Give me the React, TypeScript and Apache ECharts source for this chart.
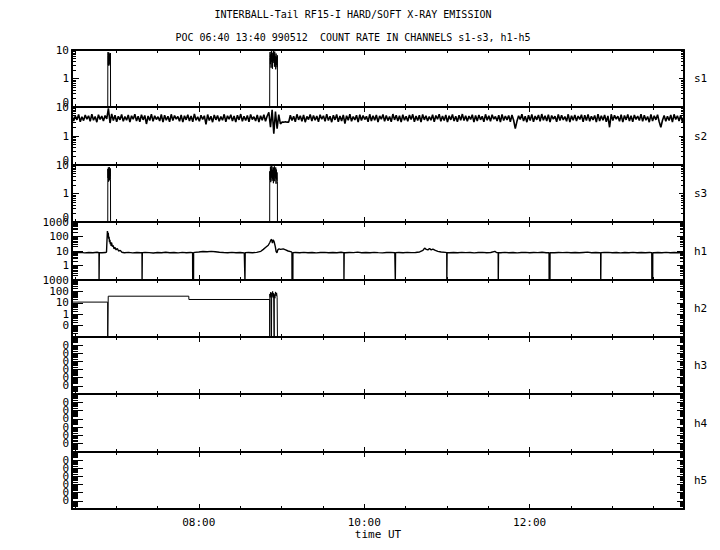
import React, { useEffect, useRef } from 'react';
import * as echarts from 'echarts';

// ---- time range (hours UT) ----
const T_MIN = 6.4667; // 06:28
const T_MAX = 13.8667; // 13:52

// ---- panels ----
const panelNames = ['s1', 's2', 's3', 'h1', 'h2', 'h3', 'h4', 'h5'];
const panelMin = [0.1, 0.1, 0.1, 0.1, 0.01, 1e-8, 1e-8, 1e-8];
const panelMax = [10, 10, 10, 1000, 1000, 0.1, 0.1, 0.1];
const panelLineWidth = [1, 1.6, 1, 1.4, 1, 1, 1, 1];

// ---- x ticks ----
const xMajorTicks = [8, 10, 12];
const xMinorTicks = [6.5, 7, 7.5, 8.5, 9, 9.5, 10.5, 11, 11.5, 12.5, 13, 13.5];
const xMajorLabels = ['08:00', '10:00', '12:00'];

// ---- data ----
const s1Points = [
  [6.4667, 0], [6.899, 0], [6.9, 6.5], [6.903, 8.5], [6.906, 3], [6.909, 7.5], [6.912, 2.8], [6.915, 8],
  [6.918, 4.2], [6.921, 7], [6.924, 3.1], [6.927, 6.8], [6.93, 5], [6.932, 7.8], [6.933, 0],
  [8.857, 0], [8.858, 5.5], [8.862, 8.5], [8.866, 3.2], [8.87, 7], [8.874, 2.4], [8.878, 9.5], [8.882, 3.8],
  [8.886, 6.5], [8.89, 2.2], [8.894, 8], [8.898, 3.5], [8.902, 10], [8.906, 4], [8.91, 7.2], [8.914, 2.6],
  [8.918, 8.8], [8.922, 3.3], [8.926, 6], [8.93, 2.1], [8.934, 7.5], [8.938, 3], [8.942, 5.8], [8.946, 2.5],
  [8.95, 6.5], [8.951, 0], [13.8667, 0],
];

const s2Start = 6.4667;
const s2Step = 0.02;
const s2Values = [
  5.2, 3.3, 4.9, 3.6, 5.5, 3.1, 4.6, 3.4, 5.3, 3.8,
  5.0, 3.2, 5.6, 3.5, 4.7, 3.0, 5.4, 3.7, 4.9, 3.3,
  5.1, 3.9, 9.0, 2.8, 5.8, 3.4, 5.2, 3.1, 4.8, 3.6,
  5.5, 3.2, 4.7, 3.5, 5.3, 3.0, 5.0, 3.8, 5.6, 3.3,
  4.8, 3.1, 5.4, 3.6, 5.1, 2.6, 4.9, 3.4, 5.7, 3.2,
  5.0, 3.7, 4.6, 3.3, 5.5, 3.0, 5.2, 3.5, 4.8, 3.1,
  5.6, 3.4, 5.1, 3.8, 4.7, 3.2, 5.3, 3.0, 5.0, 3.6,
  5.4, 3.3, 4.9, 3.1, 5.8, 3.5, 4.6, 3.2, 5.2, 3.7,
  5.0, 2.5, 5.5, 3.4, 4.8, 3.0, 5.3, 3.6, 5.1, 3.2,
  4.7, 3.5, 5.6, 3.1, 5.0, 3.8, 5.4, 3.3, 4.9, 3.0,
  5.2, 3.6, 5.7, 3.2, 4.8, 3.4, 5.1, 3.1, 5.5, 3.7,
  4.6, 3.3, 5.3, 3.0, 5.0, 3.5, 5.4, 3.2, 4.9, 6.5,
  2.0, 8.0, 1.2, 7.0, 1.8, 5.5, 2.6, 3.0, 3.0, 3.1,
  3.0, 3.0, 5.2, 3.4, 4.8, 3.1, 5.6, 3.6, 5.0, 3.2,
  5.3, 3.0, 4.7, 3.7, 5.5, 3.3, 5.1, 3.5, 4.9, 3.1,
  5.4, 3.8, 5.0, 3.2, 5.7, 3.4, 4.8, 3.0, 5.2, 3.6,
  5.5, 3.1, 4.9, 3.3, 5.3, 2.7, 5.0, 3.5, 5.6, 3.2,
  4.7, 3.6, 5.2, 3.0, 5.4, 3.4, 5.1, 3.7, 4.8, 3.1,
  5.6, 3.3, 5.0, 3.5, 5.3, 3.0, 4.9, 3.8, 5.5, 3.2,
  5.1, 3.4, 4.7, 3.1, 5.7, 3.6, 5.2, 3.3, 5.0, 3.0,
  5.4, 3.5, 4.8, 3.2, 5.3, 3.7, 5.6, 3.1, 4.9, 3.4,
  5.2, 3.0, 5.5, 3.6, 5.0, 3.3, 4.7, 3.5, 5.4, 3.1,
  5.1, 3.8, 5.6, 3.2, 4.9, 3.4, 5.3, 3.0, 5.0, 3.6,
  5.5, 3.3, 4.8, 3.1, 5.2, 3.5, 5.7, 3.4, 5.0, 3.2,
  4.9, 3.7, 5.4, 3.0, 5.1, 3.3, 5.3, 3.6, 4.8, 3.1,
  5.6, 3.5, 5.0, 3.2, 5.4, 3.8, 4.7, 3.3, 5.2, 3.0,
  5.5, 3.4, 4.9, 3.6, 5.1, 3.1, 5.3, 3.5, 1.8, 3.2,
  5.0, 3.7, 5.6, 3.3, 4.8, 3.0, 5.2, 3.4, 5.5, 3.1,
  4.9, 3.6, 5.3, 3.2, 5.7, 3.5, 5.0, 3.3, 5.4, 3.0,
  5.1, 3.8, 4.8, 3.1, 5.5, 3.4, 5.2, 3.6, 4.7, 3.2,
  5.6, 3.0, 5.0, 3.5, 5.3, 3.3, 4.9, 3.7, 5.4, 3.1,
  5.2, 3.4, 5.5, 3.2, 4.8, 3.6, 5.1, 3.0, 5.7, 3.3,
  5.0, 3.5, 5.3, 3.1, 4.9, 2.0, 5.6, 3.4, 5.2, 3.8,
  4.8, 3.2, 5.4, 3.0, 5.1, 3.6, 5.5, 3.3, 5.0, 3.1,
  5.3, 3.7, 4.9, 3.4, 5.6, 3.2, 5.2, 3.5, 4.7, 3.0,
  5.5, 3.3, 5.0, 3.6, 5.4, 3.1, 2.0, 3.5, 5.1, 3.2,
  4.8, 3.4, 5.3, 3.0, 5.6, 3.7, 5.0, 3.3, 5.2, 3.1,
  4.9,
];

const s3Points = [
  [6.4667, 0], [6.899, 0], [6.9, 7.2], [6.903, 3.5], [6.906, 8.2], [6.909, 2.6], [6.912, 7], [6.915, 3.8],
  [6.918, 8.5], [6.921, 2.9], [6.924, 6.5], [6.927, 4], [6.93, 7.6], [6.932, 3], [6.933, 0],
  [8.857, 0], [8.858, 6], [8.862, 3], [8.866, 8.8], [8.87, 2.5], [8.874, 7.4], [8.878, 3.6], [8.882, 9.6],
  [8.886, 2.8], [8.89, 6.8], [8.894, 3.2], [8.898, 8.4], [8.902, 2.3], [8.906, 7.8], [8.91, 3.9], [8.914, 9],
  [8.918, 2.7], [8.922, 6.3], [8.926, 3.4], [8.93, 8.2], [8.934, 2.2], [8.938, 6.9], [8.942, 3.1], [8.946, 5.5],
  [8.95, 2.6], [8.951, 0], [13.8667, 0],
];

const h1Points = [
  [6.4667, 7.8], [6.52, 7.5], [6.57, 8.1], [6.62, 7.4], [6.67, 7.9], [6.72, 7.6], [6.77, 8.2], [6.83, 7.5],
  [6.87, 7.8], [6.884, 8.5], [6.89, 60], [6.895, 239], [6.9, 120], [6.905, 180], [6.91, 70], [6.915, 95],
  [6.92, 40], [6.925, 60], [6.93, 30], [6.935, 42], [6.94, 22], [6.945, 37], [6.955, 20], [6.965, 24],
  [6.975, 14], [6.985, 18], [7.0, 12], [7.015, 15], [7.03, 10], [7.05, 11], [7.07, 8.2], [7.1, 7.6],
  [7.15, 8.0], [7.2, 7.4], [7.25, 7.9], [7.3, 7.5], [7.35, 8.1], [7.4, 7.7], [7.45, 7.3], [7.5, 7.9],
  [7.55, 7.6], [7.6, 8.2], [7.65, 7.5], [7.7, 7.8], [7.75, 7.4], [7.8, 8.0], [7.85, 7.6], [7.9, 7.9],
  [7.95, 8.1], [8.0, 8.6], [8.05, 9.2], [8.1, 8.9], [8.15, 9.4], [8.2, 8.8], [8.25, 8.2], [8.3, 7.8],
  [8.35, 7.5], [8.4, 8.0], [8.45, 7.6], [8.5, 7.9], [8.55, 7.4], [8.6, 7.8], [8.65, 7.5], [8.7, 8.1],
  [8.75, 9.5], [8.78, 13], [8.81, 18], [8.84, 25], [8.86, 40], [8.87, 55], [8.88, 64], [8.89, 35],
  [8.9, 58], [8.91, 45], [8.925, 20], [8.935, 9], [8.945, 7.6], [8.955, 12], [8.97, 14], [8.99, 13],
  [9.02, 14], [9.05, 12], [9.08, 10], [9.12, 8.6], [9.17, 7.8], [9.22, 7.5], [9.27, 8.0], [9.32, 7.6],
  [9.37, 7.9], [9.42, 7.4], [9.47, 7.8], [9.52, 8.1], [9.57, 7.5], [9.62, 7.8], [9.67, 7.6], [9.72, 8.2],
  [9.77, 7.5], [9.82, 7.9], [9.87, 7.7], [9.92, 8.3], [9.97, 7.6], [10.02, 7.9], [10.07, 7.5], [10.12, 8.1],
  [10.17, 7.7], [10.22, 7.4], [10.27, 7.8], [10.32, 8.0], [10.37, 7.6], [10.42, 7.9], [10.47, 7.5], [10.52, 8.0],
  [10.57, 7.7], [10.62, 7.9], [10.67, 8.6], [10.71, 11], [10.73, 16], [10.75, 13], [10.77, 12], [10.79, 15],
  [10.81, 12], [10.83, 13.5], [10.86, 11], [10.89, 9.5], [10.93, 8.5], [10.98, 8.0], [11.03, 7.6], [11.08, 7.9],
  [11.13, 7.5], [11.18, 8.1], [11.23, 7.7], [11.28, 7.9], [11.33, 7.4], [11.38, 7.8], [11.43, 8.0], [11.48, 7.6],
  [11.53, 7.9], [11.58, 9.5], [11.6, 7.8], [11.65, 7.5], [11.7, 8.0], [11.75, 7.6], [11.8, 7.9], [11.85, 7.4],
  [11.9, 7.8], [11.95, 8.1], [12.0, 7.5], [12.05, 7.9], [12.1, 7.7], [12.15, 8.2], [12.2, 7.6], [12.25, 7.8],
  [12.3, 7.5], [12.35, 7.9], [12.4, 7.7], [12.45, 8.0], [12.5, 7.6], [12.55, 7.8], [12.6, 7.5], [12.65, 7.9],
  [12.7, 8.3], [12.75, 7.6], [12.8, 7.8], [12.85, 7.5], [12.9, 7.9], [12.95, 8.1], [13.0, 7.6], [13.05, 7.8],
  [13.1, 7.4], [13.15, 7.9], [13.2, 7.6], [13.25, 8.0], [13.3, 7.5], [13.35, 7.8], [13.4, 7.6], [13.45, 7.9],
  [13.5, 7.5], [13.55, 7.8], [13.6, 7.6], [13.65, 8.0], [13.7, 7.5], [13.75, 7.8], [13.8, 7.6], [13.8667, 7.8],
];
// dropouts of h1 to zero (time, half width in hours)
const h1DropTimes = [6.795, 7.315, 7.931, 8.559, 9.132, 9.756, 10.377, 11.0, 11.622, 12.241, 12.861, 13.483];
const h1DropHalfWidth = [0.001, 0.001, 0.005, 0.001, 0.005, 0.001, 0.001, 0.001, 0.001, 0.005, 0.001, 0.005];
const h1DropLevel = 7.7;

const h2Points = [
  [6.4667, 11.5], [6.898, 11.5], [6.899, 0], [6.904, 0], [6.905, 38], [7.879, 38], [7.88, 19.5],
  [8.857, 19.5], [8.858, 0], [8.859, 60], [8.864, 30], [8.869, 85], [8.874, 40], [8.879, 0], [8.881, 75],
  [8.887, 35], [8.893, 100], [8.899, 28], [8.905, 70], [8.911, 0], [8.913, 55], [8.92, 25], [8.927, 90],
  [8.934, 40], [8.941, 75], [8.947, 30], [8.951, 0], [13.8667, 0],
];
const h3Points = [[6.4667, 0], [13.8667, 0]];
const h4Points = [[6.4667, 0], [13.8667, 0]];
const h5Points = [[6.4667, 0], [13.8667, 0]];

// ---- layout/styles ----
const FONT = 'DejaVu Sans Mono';
const PLOT_TOP = 50;
const PLOT_BOTTOM = 509;
const PLOT_LEFT = 72;
const PLOT_RIGHT = 36;

function buildSeriesData(): number[][][] {
  const s2 = s2Values.map((v, i) => [s2Start + i * s2Step, v]);
  const h1: number[][] = h1Points.map((p) => [p[0], p[1]]);
  h1DropTimes.forEach((t, k) => {
    const w = h1DropHalfWidth[k];
    h1.push([t - w - 0.0008, h1DropLevel], [t - w, 0], [t + w, 0], [t + w + 0.0008, h1DropLevel]);
  });
  h1.sort((a, b) => a[0] - b[0]);
  return [s1Points, s2, s3Points, h1, h2Points, h3Points, h4Points, h5Points] as number[][][];
}

// decade tick values of a log axis (raw values and their exponents)
function decades(min: number, max: number) {
  const lo = Math.round(Math.log10(min));
  const hi = Math.round(Math.log10(max));
  const majors: number[] = [];
  const all: number[] = [];
  const majorExp: number[] = [];
  const allExp: number[] = [];
  for (let e = lo; e <= hi; e++) {
    const p = Number(Math.pow(10, e).toPrecision(12));
    majors.push(p);
    all.push(p);
    majorExp.push(e);
    allExp.push(e);
    if (e < hi) {
      for (let k = 2; k <= 9; k++) {
        all.push(Number((k * Math.pow(10, e)).toPrecision(12)));
        allExp.push(e + Math.log10(k));
      }
    }
  }
  return { lo, hi, majors, all, majorExp, allExp };
}

export default function App() {
  const ref = useRef<HTMLDivElement>(null);
  useEffect(() => {
    if (!ref.current) return;
    const chart = echarts.init(ref.current, undefined, { renderer: 'svg' });
    const data = buildSeriesData();
    const n = panelNames.length;
    const tops = Array.from({ length: n + 1 }, (_, i) => Math.round(PLOT_TOP + (i * (PLOT_BOTTOM - PLOT_TOP)) / n));
    const grids: any[] = [];
    const xAxes: any[] = [];
    const yAxes: any[] = [];
    const series: any[] = [];
    const black = '#000';
    const xAll = [...xMajorTicks, ...xMinorTicks].sort((a, b) => a - b);
    const tickLine = { color: black, width: 1 };
    const lineOn = { show: true, onZero: false, lineStyle: { color: black, width: 2 } };
    const lineOff = { show: false, onZero: false };
    for (let i = 0; i < n; i++) {
      grids.push({ left: PLOT_LEFT, right: PLOT_RIGHT, top: tops[i], height: tops[i + 1] - tops[i] });
      const isLast = i === n - 1;
      const isS = i < 3;
      const xCommon = { type: 'value', gridIndex: i, min: T_MIN, max: T_MAX, splitLine: { show: false } };
      // bottom: all half-hour ticks (short) + labels
      xAxes.push({
        ...xCommon, position: 'bottom', axisLine: lineOn,
        axisTick: { show: true, inside: true, length: 3, customValues: xAll, lineStyle: tickLine },
        axisLabel: isLast
          ? { show: true, customValues: xMajorTicks, formatter: (v: number) => xMajorLabels[xMajorTicks.indexOf(Math.round(v))] ?? '', color: black, fontFamily: FONT, fontSize: 11, margin: 8 }
          : { show: false },
        name: isLast ? 'time UT' : '', nameLocation: 'middle', nameGap: 22,
        nameTextStyle: { color: black, fontFamily: FONT, fontSize: 11, verticalAlign: 'middle' },
      });
      // bottom: long ticks on even hours
      xAxes.push({
        ...xCommon, position: 'bottom', axisLine: lineOff, axisLabel: { show: false },
        axisTick: { show: true, inside: true, length: 5, customValues: xMajorTicks, lineStyle: tickLine },
      });
      xAxes.push({
        ...xCommon, position: 'top', axisLine: lineOn, axisLabel: { show: false },
        axisTick: { show: true, inside: true, length: 3, customValues: xAll, lineStyle: tickLine },
      });
      xAxes.push({
        ...xCommon, position: 'top', axisLine: lineOff, axisLabel: { show: false },
        axisTick: { show: true, inside: true, length: 5, customValues: xMajorTicks, lineStyle: tickLine },
      });

      const min = panelMin[i];
      const max = panelMax[i];
      const d = decades(min, max);
      const fmt = (v: number) => {
        if (Math.abs(v - min) / min < 1e-6) return '{lo|0}';
        return v >= 1 ? String(Math.round(v)) : '0';
      };
      // left: log axis carrying the series, labels on decades, all ticks short
      yAxes.push({
        type: 'log', logBase: 10, gridIndex: i, min, max, position: 'left', splitLine: { show: false },
        axisLine: lineOn,
        axisTick: { show: true, inside: true, length: isS ? 4 : 6, customValues: d.all, lineStyle: tickLine },
        axisLabel: {
          show: true, customValues: d.majors, formatter: fmt, color: black, fontFamily: FONT, fontSize: 11, margin: 3,
          rich: { lo: { color: black, fontFamily: FONT, fontSize: 11, padding: [0, 0, 9, 0] } },
        },
      });
      // exponent-space axes for the remaining ticks
      const eCommon = { type: 'value', gridIndex: i, min: d.lo, max: d.hi, splitLine: { show: false } };
      yAxes.push({
        ...eCommon, position: 'left', axisLine: lineOff, axisLabel: { show: false },
        axisTick: { show: true, inside: true, length: isS ? 7 : 11, customValues: d.majorExp, lineStyle: tickLine },
      });
      yAxes.push({
        ...eCommon, position: 'right', axisLine: lineOn, axisLabel: { show: false },
        axisTick: { show: true, inside: true, length: isS ? 3 : 4, customValues: d.allExp, lineStyle: tickLine },
        name: panelNames[i], nameLocation: 'middle', nameRotate: 0, nameGap: 10,
        nameTextStyle: { color: black, fontFamily: FONT, fontSize: 11, align: 'left', verticalAlign: 'middle' },
      });
      yAxes.push({
        ...eCommon, position: 'right', axisLine: lineOff, axisLabel: { show: false },
        axisTick: { show: true, inside: true, length: isS ? 5 : 7, customValues: d.majorExp, lineStyle: tickLine },
      });

      series.push({
        type: 'line', name: panelNames[i], xAxisIndex: 4 * i, yAxisIndex: 4 * i,
        data: data[i].map((p) => [p[0], p[1] <= 0 ? min : p[1]]),
        showSymbol: false, symbol: 'none', lineStyle: { color: black, width: panelLineWidth[i] }, silent: true,
      });
    }

    chart.setOption({
      animation: false,
      backgroundColor: '#fff',
      graphic: [
        { type: 'text', x: 353, y: 14, style: { text: 'INTERBALL-Tail RF15-I HARD/SOFT X-RAY EMISSION', fill: black, font: `10px "${FONT}"`, textAlign: 'center', textVerticalAlign: 'middle' } },
        { type: 'text', x: 353, y: 37, style: { text: 'POC 06:40 13:40 990512  COUNT RATE IN CHANNELS s1-s3, h1-h5', fill: black, font: `10px "${FONT}"`, textAlign: 'center', textVerticalAlign: 'middle' } },
      ],
      grid: grids,
      xAxis: xAxes,
      yAxis: yAxes,
      series,
    });
    return () => chart.dispose();
  }, []);
  return <div ref={ref} style={{ position: 'absolute', left: 0, top: 0, width: 720, height: 550, background: '#fff' }} />;
}
